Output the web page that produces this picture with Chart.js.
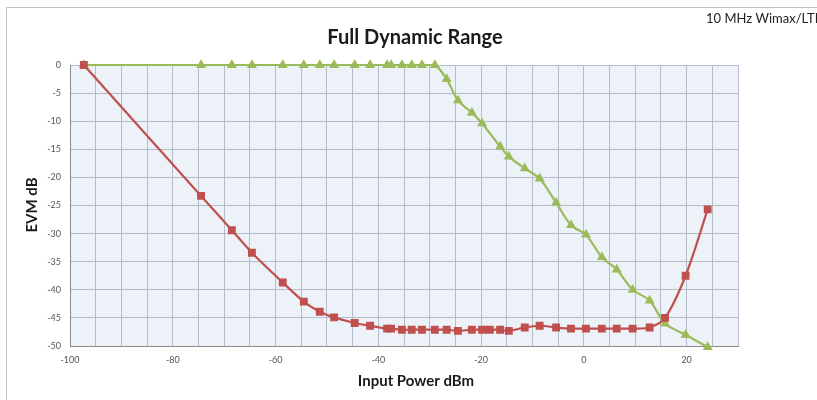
<!DOCTYPE html>
<html>
<head>
<meta charset="utf-8">
<script src="https://cdn.jsdelivr.net/npm/chart.js@4/dist/chart.umd.min.js"></script>
<style>
  body { margin: 0; background: #fff; }
  #wrap { position: relative; width: 817px; height: 400px; }
</style>
</head>
<body>
<div id="wrap"><canvas id="grafico" width="817" height="400"></canvas></div>
<script>
// Datos
var potenciaRoja = [-97.3, -74.5, -68.5, -64.6, -58.6, -54.5, -51.4, -48.6, -44.6, -41.6, -38.3, -37.5, -35.4, -33.5, -31.5, -29, -26.7, -24.5, -21.8, -19.8, -18.3, -16.3, -14.6, -11.5, -8.6, -5.4, -2.5, 0.4, 3.5, 6.4, 9.5, 12.8, 15.8, 19.8, 24.1];
var evmRojo = [0, -23.3, -29.4, -33.4, -38.7, -42.1, -43.9, -44.9, -45.9, -46.4, -46.9, -46.9, -47.1, -47.1, -47.1, -47.1, -47.1, -47.3, -47.1, -47.1, -47.1, -47.1, -47.3, -46.7, -46.4, -46.7, -46.9, -46.9, -46.9, -46.9, -46.9, -46.7, -45, -37.5, -25.7];

var potenciaVerde = [-97.3, -74.5, -68.5, -64.6, -58.6, -54.5, -51.4, -48.6, -44.6, -41.6, -38.3, -37.5, -35.4, -33.5, -31.5, -29, -26.7, -24.5, -21.8, -19.8, -16.3, -14.6, -11.5, -8.6, -5.4, -2.5, 0.4, 3.5, 6.4, 9.5, 12.8, 15.8, 19.8, 24.1];
var evmVerde = [0, 0, 0, 0, 0, 0, 0, 0, 0, 0, 0, 0, 0, 0, 0, 0, -2.5, -6.3, -8.5, -10.4, -14.5, -16.3, -18.4, -20.2, -24.5, -28.5, -30.2, -34.2, -36.4, -40, -41.9, -46, -48, -50.2];

var etiquetasX = [-100, -80, -60, -40, -20, 0, 20];

var puntosRojos = [];
for (var i = 0; i < potenciaRoja.length; i++) {
  puntosRojos.push({x: potenciaRoja[i], y: evmRojo[i]});
}
var puntosVerdes = [];
for (var i = 0; i < potenciaVerde.length; i++) {
  puntosVerdes.push({x: potenciaVerde[i], y: evmVerde[i]});
}

var fuente = "Lato, 'Open Sans', 'DejaVu Sans', sans-serif";

// Fondo del area, marco y textos
var decoracion = {
  id: 'decoracion',
  beforeDraw: function(chart) {
    var c = chart.ctx, a = chart.chartArea;
    c.save();
    c.fillStyle = '#fff';
    c.fillRect(0, 0, chart.width, chart.height);
    c.strokeStyle = '#c4c4c4';
    c.lineWidth = 1;
    c.strokeRect(6.5, 7.5, 1000, 600);
    c.fillStyle = '#edf1f8';
    c.fillRect(a.left, a.top, a.right - a.left, a.bottom - a.top);
    c.restore();
  },
  afterDraw: function(chart) {
    var c = chart.ctx;
    c.save();
    c.fillStyle = '#1a1a1a';
    c.textAlign = 'center';
    c.textBaseline = 'middle';
    c.font = "bold 20px " + fuente;
    c.fillText('Full Dynamic Range', 415, 38);
    c.font = "bold 15px " + fuente;
    c.fillText('Input Power dBm', 416, 381);
    c.translate(32, 205);
    c.rotate(-Math.PI / 2);
    c.fillText('EVM dB', 0, 0);
    c.restore();
    c.save();
    c.fillStyle = '#222';
    c.font = "13px " + fuente;
    c.textAlign = 'left';
    c.textBaseline = 'middle';
    c.fillText('10 MHz Wimax/LTE', 706, 19);
    c.restore();
  }
};

var config = {
  type: 'line',
  data: {
    datasets: [{
      data: puntosRojos,
      borderColor: '#c0504d',
      backgroundColor: '#c0504d',
      borderWidth: 2.2,
      pointStyle: 'rect',
      pointRadius: 4,
      tension: 0.3,
      clip: false
    }, {
      data: puntosVerdes,
      borderColor: '#9bbb59',
      backgroundColor: '#9bbb59',
      borderWidth: 2.2,
      pointStyle: 'triangle',
      pointRadius: 3.6,
      tension: 0.3,
      clip: false
    }]
  },
  options: {
    responsive: false,
    animation: false,
    layout: { padding: { left: 0, right: 79, top: 65, bottom: 0 } },
    plugins: {
      legend: { display: false },
      title: { display: false },
      tooltip: { enabled: false }
    },
    scales: {
      x: {
        type: 'linear',
        min: -100,
        max: 30,
        afterFit: function(s) { s.height = 54; },
        afterBuildTicks: function(s) {
          var t = [];
          for (var v = -100; v <= 30; v += 5) t.push({value: v});
          s.ticks = t;
        },
        grid: { color: '#b4bcc9', lineWidth: 1, drawTicks: false },
        border: { color: '#8a8a8a', width: 1 },
        ticks: {
          autoSkip: false,
          maxRotation: 0,
          padding: 9,
          color: '#555',
          font: { size: 9, family: fuente },
          callback: function(v) { return etiquetasX.indexOf(v) >= 0 ? String(v) : ''; }
        }
      },
      y: {
        min: -50,
        max: 0,
        afterFit: function(s) { s.width = 70; },
        grid: { color: '#b4bcc9', lineWidth: 1, drawTicks: false },
        border: { color: '#8a8a8a', width: 1 },
        ticks: {
          stepSize: 5,
          padding: 9,
          color: '#555',
          font: { size: 9, family: fuente }
        }
      }
    }
  },
  plugins: [decoracion]
};

var ctx = document.getElementById('grafico');
window.miGrafico = new Chart(ctx, config);
</script>
</body>
</html>
